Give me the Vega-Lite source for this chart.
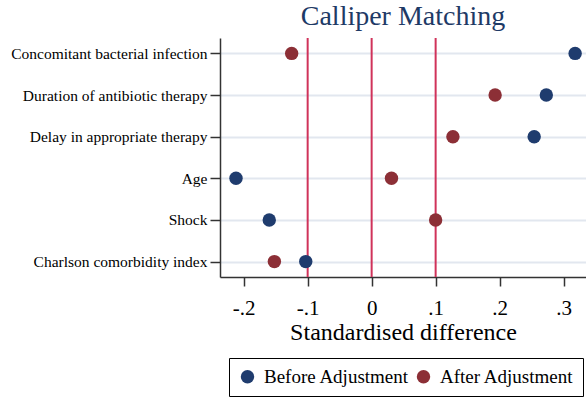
{
  "$schema": "https://vega.github.io/schema/vega-lite/v6.json",
  "autosize": {"type": "none"},
  "width": 366,
  "height": 239,
  "padding": {"left": 220, "top": 38, "right": 0, "bottom": 123},
  "background": "white",
  "config": {
    "view": {"stroke": null},
    "font": "Liberation Serif",
    "axis": {"labelFont": "Liberation Serif", "titleFont": "Liberation Serif"},
    "legend": {"labelFont": "Liberation Serif"}
  },
  "title": {
    "text": "Calliper Matching",
    "font": "Liberation Serif",
    "fontSize": 28,
    "fontWeight": "normal",
    "color": "#1e3a66",
    "offset": 6,
    "frame": "group"
  },
  "datasets": {
    "points": [
      {"variable": "Concomitant bacterial infection", "group": "Before Adjustment", "diff": 0.318},
      {"variable": "Concomitant bacterial infection", "group": "After Adjustment", "diff": -0.125},
      {"variable": "Duration of antibiotic therapy", "group": "Before Adjustment", "diff": 0.273},
      {"variable": "Duration of antibiotic therapy", "group": "After Adjustment", "diff": 0.193},
      {"variable": "Delay in appropriate therapy", "group": "Before Adjustment", "diff": 0.254},
      {"variable": "Delay in appropriate therapy", "group": "After Adjustment", "diff": 0.127},
      {"variable": "Age", "group": "Before Adjustment", "diff": -0.212},
      {"variable": "Age", "group": "After Adjustment", "diff": 0.031},
      {"variable": "Shock", "group": "Before Adjustment", "diff": -0.160},
      {"variable": "Shock", "group": "After Adjustment", "diff": 0.100},
      {"variable": "Charlson comorbidity index", "group": "Before Adjustment", "diff": -0.103},
      {"variable": "Charlson comorbidity index", "group": "After Adjustment", "diff": -0.152}
    ],
    "refs": [{"ref": -0.1}, {"ref": 0}, {"ref": 0.1}]
  },
  "layer": [
    {
      "data": {"name": "refs"},
      "mark": {"type": "rule", "color": "#d0325a", "strokeWidth": 2},
      "encoding": {
        "x": {"field": "ref", "type": "quantitative", "scale": {"domain": [-0.237, 0.335], "nice": false, "zero": false}}
      }
    },
    {
      "data": {"name": "points"},
      "mark": {"type": "circle", "size": 180, "opacity": 1},
      "encoding": {
        "x": {
          "field": "diff",
          "type": "quantitative",
          "title": "Standardised difference",
          "scale": {"domain": [-0.237, 0.335], "nice": false, "zero": false},
          "axis": {
            "values": [-0.2, -0.1, 0, 0.1, 0.2, 0.3],
            "labelExpr": "datum.value == 0 ? '0' : (datum.value < 0 ? '-' : '') + '.' + format(abs(datum.value) * 10, '.0f')",
            "grid": false,
            "domainColor": "#333333",
            "domainWidth": 1.5,
            "tickColor": "#333333",
            "tickWidth": 1.5,
            "tickSize": 9,
            "labelFont": "Liberation Serif",
            "labelFontSize": 21,
            "labelColor": "black",
            "labelPadding": 11,
            "titleFont": "Liberation Serif",
            "titleFontSize": 24,
            "titleFontWeight": "normal",
            "titleColor": "black",
            "titlePadding": 2
          }
        },
        "y": {
          "field": "variable",
          "type": "nominal",
          "title": null,
          "sort": ["Concomitant bacterial infection", "Duration of antibiotic therapy", "Delay in appropriate therapy", "Age", "Shock", "Charlson comorbidity index"],
          "scale": {"type": "point", "padding": 0.37},
          "axis": {
            "grid": true,
            "gridColor": "#e2e7ef",
            "gridWidth": 2,
            "domainColor": "#333333",
            "domainWidth": 1.5,
            "tickColor": "#333333",
            "tickWidth": 1.5,
            "tickSize": 10,
            "labelFont": "Liberation Serif",
            "labelFontSize": 15.5,
            "labelColor": "black",
            "labelPadding": 3,
            "labelLimit": 300
          }
        },
        "color": {
          "field": "group",
          "type": "nominal",
          "scale": {"domain": ["Before Adjustment", "After Adjustment"], "range": ["#1f3c6e", "#8c2f36"]},
          "legend": {
            "title": null,
            "orient": "none",
            "legendX": 9,
            "legendY": 320,
            "direction": "horizontal",
            "strokeColor": "black",
            "padding": 9,
            "symbolType": "circle",
            "symbolSize": 180,
            "symbolStrokeWidth": 0,
            "symbolOpacity": 1,
            "labelFont": "Liberation Serif",
            "labelFontSize": 19,
            "labelColor": "black",
            "labelOffset": 7,
            "columnPadding": 4
          }
        }
      }
    }
  ]
}
